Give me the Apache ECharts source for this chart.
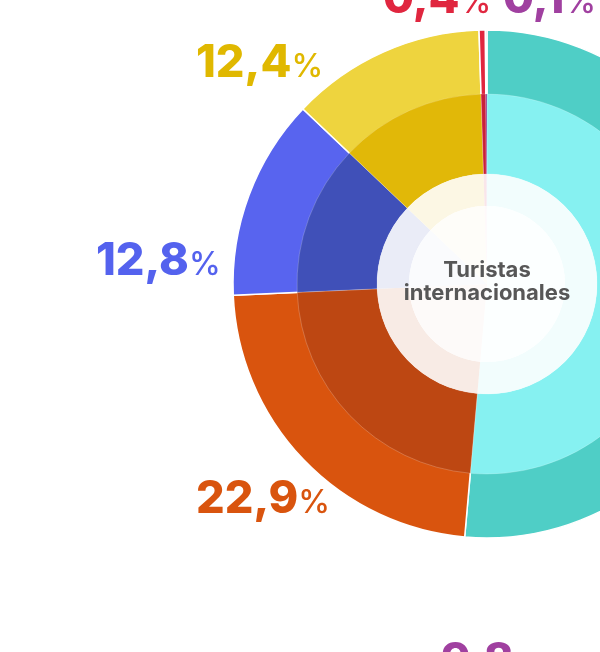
<!DOCTYPE html>
<html>
<head>
<meta charset="utf-8">
<script src="https://cdn.jsdelivr.net/npm/echarts@6/dist/echarts.min.js"></script>
<style>
  html, body { margin: 0; padding: 0; background: #fff; }
  #chart { width: 600px; height: 652px; }
</style>
</head>
<body>
<div id="chart"></div>
<script>
// data
var categories = ['Grupo 1', 'Grupo 2', 'Grupo 3', 'Grupo 4', 'Grupo 5', 'Grupo 6'];
var shares = [51.4, 22.9, 12.8, 12.4, 0.4, 0.1];
var outerColors = ['#4fcec6', '#d9540e', '#5864ef', '#eed43e', '#e0263f', '#a040a0'];
var innerColors = ['#86f1f1', '#bd4712', '#4050b8', '#e1b808', '#c9203a', '#8e3590'];
var labelColors = ['#4fcec6', '#d9540e', '#5462ee', '#e0b800', '#e0263f', '#a040a0'];
var centerTitle = 'Turistas\ninternacionales';
var nextLabel = '9,8';

// where each percentage label sits (top-left corner, px)
var labelPos = [null, [196, 477], [96, 239], [196, 41], [383, -23], [503, -23]];

var cx = 487, cy = 284;

function mixWhite(hex, t) {
    var r = parseInt(hex.substr(1, 2), 16), g = parseInt(hex.substr(3, 2), 16), b = parseInt(hex.substr(5, 2), 16);
    r = Math.round(r + (255 - r) * t);
    g = Math.round(g + (255 - g) * t);
    b = Math.round(b + (255 - b) * t);
    return 'rgb(' + r + ',' + g + ',' + b + ')';
}

function fmt(v) {
    return String(v).replace('.', ',');
}

function ringData(colors, withLabels) {
    return categories.map(function (name, i) {
        var item = { name: name, value: shares[i], itemStyle: { color: colors[i] } };
        if (withLabels) {
            item.label = {
                show: i !== 0,
                formatter: function (p) { return '{n|' + fmt(p.value) + '}{p|%}'; },
                rich: {
                    n: { fontFamily: 'Inter', fontWeight: 800, fontSize: 45, color: labelColors[i] },
                    p: { fontFamily: 'Inter', fontWeight: 500, fontSize: 32, color: labelColors[i], padding: [8, 0, 0, 0] }
                }
            };
        }
        return item;
    });
}

var myChart = echarts.init(document.getElementById('chart'));
myChart.setOption({
    animation: false,
    series: [
        {
            // outer ring; its inner part is covered by the darker ring below
            type: 'pie',
            center: [cx, cy],
            radius: [120, 254],
            startAngle: 90,
            avoidLabelOverlap: false,
            silent: true,
            itemStyle: { borderColor: '#fff', borderWidth: 1.5 },
            labelLine: { show: false },
            label: { position: 'outside' },
            labelLayout: function (params) {
                var pos = labelPos[params.dataIndex];
                if (!pos) return {};
                return { x: pos[0], y: pos[1], align: 'left', verticalAlign: 'top' };
            },
            data: ringData(outerColors, true)
        },
        {
            type: 'pie',
            center: [cx, cy],
            radius: [110, 190],
            startAngle: 90,
            silent: true,
            label: { show: false },
            labelLine: { show: false },
            itemStyle: { borderColor: 'rgba(255,255,255,0.35)', borderWidth: 0.6 },
            data: ringData(innerColors, false)
        },
        {
            type: 'pie',
            center: [cx, cy],
            radius: [78, 110],
            startAngle: 90,
            silent: true,
            label: { show: false },
            labelLine: { show: false },
            itemStyle: { borderWidth: 0 },
            data: ringData(innerColors.map(function (c) { return mixWhite(c, 0.89); }), false)
        },
        {
            type: 'pie',
            center: [cx, cy],
            radius: [0, 78],
            startAngle: 90,
            silent: true,
            label: { show: false },
            labelLine: { show: false },
            itemStyle: { borderWidth: 0 },
            data: ringData(innerColors.map(function (c) { return mixWhite(c, 0.975); }), false)
        }
    ],
    graphic: [
        {
            type: 'text',
            z: 100,
            x: cx, y: cy - 2,
            style: {
                text: centerTitle,
                align: 'center',
                verticalAlign: 'middle',
                fontFamily: 'Inter',
                fontWeight: 700,
                fontSize: 22,
                lineHeight: 23,
                fill: '#575757'
            }
        },
        {
            type: 'text',
            z: 100,
            x: 441, y: 639,
            style: {
                text: nextLabel,
                fontFamily: 'Inter',
                fontWeight: 800,
                fontSize: 45,
                fill: '#a040a0'
            }
        }
    ]
});
</script>
</body>
</html>
